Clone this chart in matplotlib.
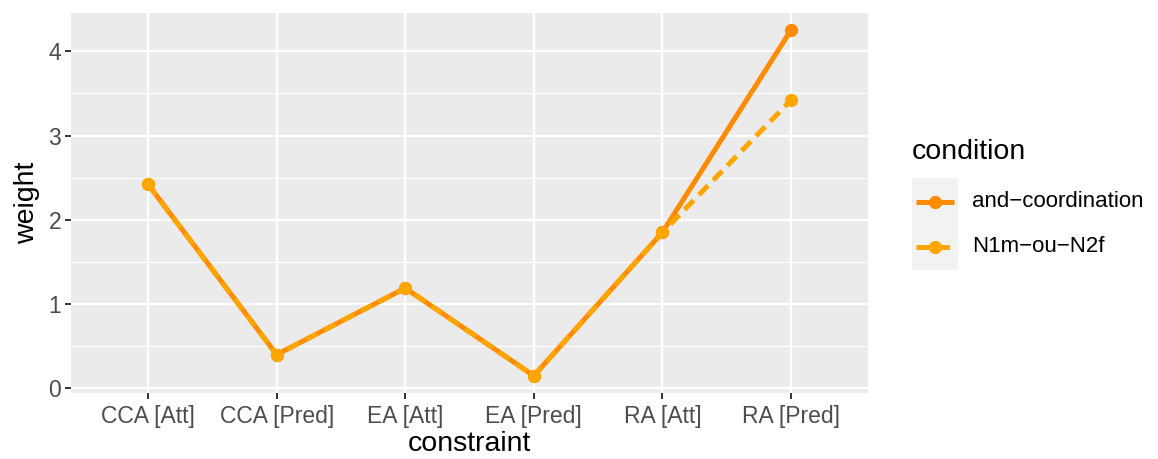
import numpy as np
import matplotlib.pyplot as plt
from matplotlib.lines import Line2D

plt.rcParams['font.family'] = ['Liberation Sans', 'DejaVu Sans']

constraints = ["CCA [Att]", "CCA [Pred]", "EA [Att]", "EA [Pred]", "RA [Att]", "RA [Pred]"]
and_coord = [2.42, 0.40, 1.19, 0.15, 1.85, 4.25]
n1m_ou_n2f = [2.42, 0.40, 1.19, 0.15, 1.85, 3.42]
conditions = ["and\u2212coordination", "N1m\u2212ou\u2212N2f"]
colors = ["#FF8C00", "#FFA500"]
styles = ["-", "--"]

fig = plt.figure(figsize=(11.58, 4.59), dpi=100)
ax = fig.add_axes([0.0613, 0.1438, 0.6883, 0.8279])
ax.set_facecolor("#EBEBEB")

x = np.arange(1, len(constraints) + 1)
lw = 3.6
for vals, col, ls in zip([and_coord, n1m_ou_n2f], colors, styles):
    line, = ax.plot(x, vals, color=col, lw=lw, ls=ls, solid_capstyle='butt',
                    dash_capstyle='butt', zorder=3)
    if ls == "--":
        line.set_dashes((2.6, 1.5))
    ax.plot(x, vals, 'o', color=col, ms=8.5, zorder=4)

ax.set_xlim(0.4, 6.6)
ax.set_ylim(-0.055, 4.455)
ax.set_xticks(x)
ax.set_xticklabels(constraints)
ax.set_yticks([0, 1, 2, 3, 4])
ax.set_yticks([0.5, 1.5, 2.5, 3.5], minor=True)
ax.grid(which='major', color='white', lw=1.6, zorder=0)
ax.grid(which='minor', axis='y', color='white', lw=0.8, zorder=0)
ax.set_axisbelow(True)
for s in ax.spines.values():
    s.set_visible(False)
ax.tick_params(which='major', length=4, width=1.4, color='#333333',
               labelcolor='#4D4D4D', labelsize=16.5, pad=3)
ax.tick_params(axis='x', which='major', pad=5)
ax.tick_params(which='minor', length=0)
ax.set_xlabel("constraint", fontsize=20.5, labelpad=2)
ax.set_ylabel("weight", fontsize=20.5, labelpad=6)

# legend (ggplot style)
W, H = 1158, 459
def fx(px):
    return px / W
def fy(py):
    return 1 - py / H

fig.text(fx(912), fy(152), "condition", fontsize=20.5, va='center', ha='left')
fig.patches.append(plt.Rectangle((fx(912), fy(270)), fx(46), 92 / H,
                                 transform=fig.transFigure, facecolor='#F2F2F2',
                                 edgecolor='none', zorder=0))
for i, (lab, col, ls) in enumerate(zip(conditions, colors, styles)):
    yy = fy(202 + i * 45)
    ln = Line2D([fx(916), fx(954)], [yy, yy], color=col, lw=lw, ls=ls,
                transform=fig.transFigure, solid_capstyle='butt', dash_capstyle='butt')
    if ls == "--":
        ln.set_dashes((2.6, 1.5))
    fig.lines.append(ln)
    fig.lines.append(Line2D([fx(935)], [yy], marker='o', color=col, ms=8.5,
                            transform=fig.transFigure))
    fig.text(fx(972), yy, lab, fontsize=16, va='center', ha='left')

fig.savefig("out.png", dpi=100)
